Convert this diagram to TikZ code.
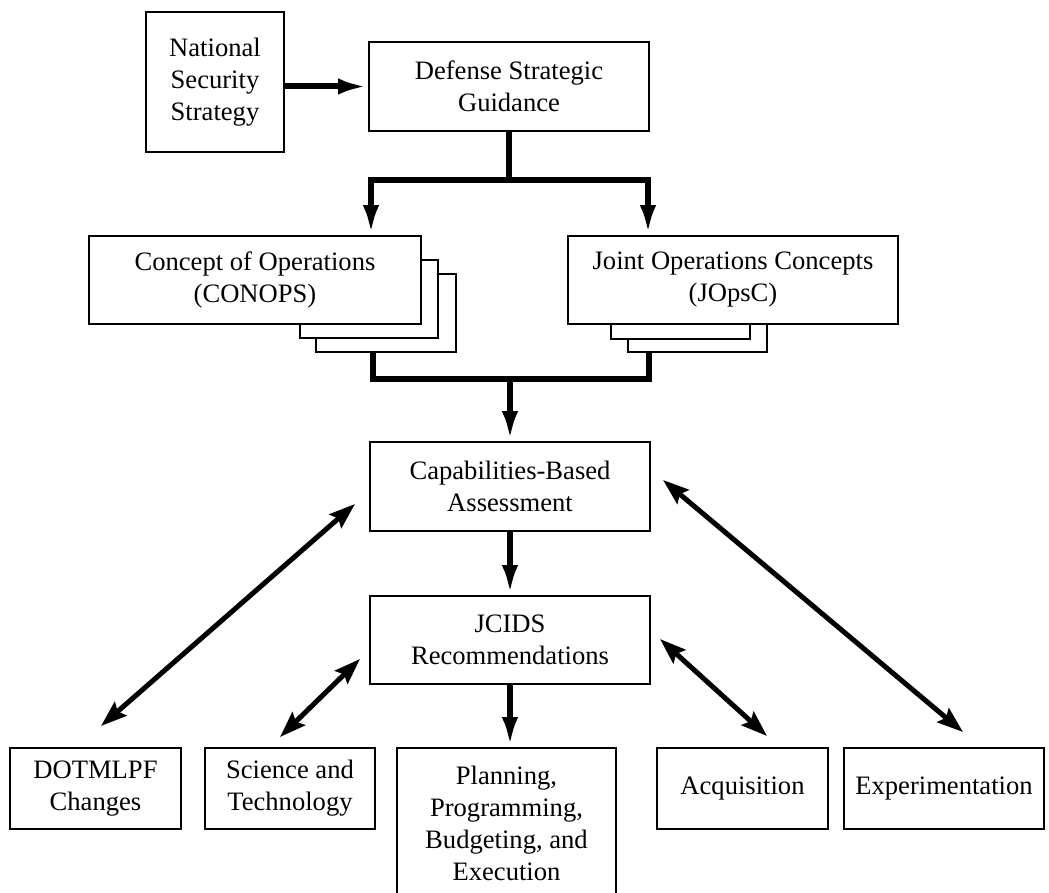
\documentclass[tikz,border=0pt]{standalone}
\usepackage{fontspec}
\setmainfont{Liberation Serif}
\usetikzlibrary{arrows.meta}

\begin{document}
\begin{tikzpicture}[
  x=0.5pt, y=-0.5pt,
  every node/.style={font=\fontsize{13.3}{16}\selectfont},
  box/.style={rectangle,draw,line width=0.8pt,fill=white,
              inner sep=0pt, align=center},
  flow/.style={line width=3pt, line join=miter},
  flowarrow/.style={flow, -{Latex[length=15pt,width=8pt]}},
  biarrow/.style={line width=2.5pt,
    {Stealth[length=13pt,width=9pt,inset=2pt]}-{Stealth[length=13pt,width=9pt,inset=2pt]}}
]
  \clip (0,0) rectangle (1049,893);

  % strategy
  \node[box, minimum width=69pt, minimum height=70pt]   (nss) at (215,82)
       {National\\Security\\Strategy};
  \node[box, minimum width=140pt, minimum height=44.5pt] (dsg) at (509,86.5)
       {Defense Strategic\\Guidance};

  % concepts (stacked)
  \node[box, minimum width=70pt, minimum height=39pt]   (conops3) at (386,313) {};
  \node[box, minimum width=69pt, minimum height=39pt]   (conops2) at (369,299) {};
  \node[box, minimum width=166pt, minimum height=44pt]  (conops)  at (255,280)
       {Concept of Operations\\(CONOPS)};
  \node[box, minimum width=69.5pt, minimum height=39pt] (jopsc3) at (697.5,313) {};
  \node[box, minimum width=69.5pt, minimum height=39.5pt] (jopsc2) at (680.5,299.5) {};
  \node[box, minimum width=165pt, minimum height=44pt]  (jopsc)  at (733,280)
       {Joint Operations Concepts\\(JOpsC)};

  % assessment
  \node[box, minimum width=140pt, minimum height=44.5pt] (cba) at (510,486.5)
       {Capabilities-Based\\Assessment};
  \node[box, minimum width=140pt, minimum height=44pt]   (jcids) at (510,640)
       {JCIDS\\Recommendations};

  % outputs
  \node[box, minimum width=85.5pt, minimum height=40.5pt] (dotmlpf) at (95.5,788.5)
       {DOTMLPF\\Changes};
  \node[box, minimum width=85pt, minimum height=40.5pt]   (st) at (290,788.5)
       {Science and\\Technology};
  \node[box, minimum width=109.5pt, minimum height=75pt]  (ppbe) at (506.5,823)
       {Planning,\\Programming,\\Budgeting, and\\Execution};
  \node[box, minimum width=85.5pt, minimum height=40.5pt] (acq) at (742.5,788.5)
       {Acquisition};
  \node[box, minimum width=100pt, minimum height=40.5pt]  (exp) at (944,788.5)
       {Experimentation};

  \coordinate (splitL) at (371,180);
  \coordinate (splitR) at (648,180);
  \coordinate (mergeL) at (373,379);
  \coordinate (mergeR) at (649,379);

  \draw[flowarrow] (nss.east |- dsg.west) -- (dsg.west);
  \draw[flowarrow] (dsg.south) |- (splitL) -- (splitL |- conops.north);
  \draw[flowarrow] (dsg.south) |- (splitR) -- (splitR |- jopsc.north);

  \draw[flow] (mergeL |- conops3.south) -- (mergeL) -- (mergeR)
              -- (mergeR |- jopsc3.south);
  \draw[flowarrow] (cba.north |- mergeL) -- (cba.north);
  \draw[flowarrow] (cba.south) -- (jcids.north);
  \draw[flowarrow] (jcids.south) -- (jcids.south |- ppbe.north);

  % feedback
  \coordinate (dotTip) at (101,726);  \coordinate (cbaTipL) at (355,504);
  \coordinate (stTip)  at (280,737);  \coordinate (jcTipL)  at (360,659);
  \coordinate (acqTip) at (767,736);  \coordinate (jcTipR)  at (660,639);
  \coordinate (expTip) at (963,732);  \coordinate (cbaTipR) at (663,480);

  \draw[biarrow] (dotTip) -- (cbaTipL);
  \draw[biarrow] (stTip)  -- (jcTipL);
  \draw[biarrow] (jcTipR) -- (acqTip);
  \draw[biarrow] (cbaTipR) -- (expTip);
\end{tikzpicture}
\end{document}
